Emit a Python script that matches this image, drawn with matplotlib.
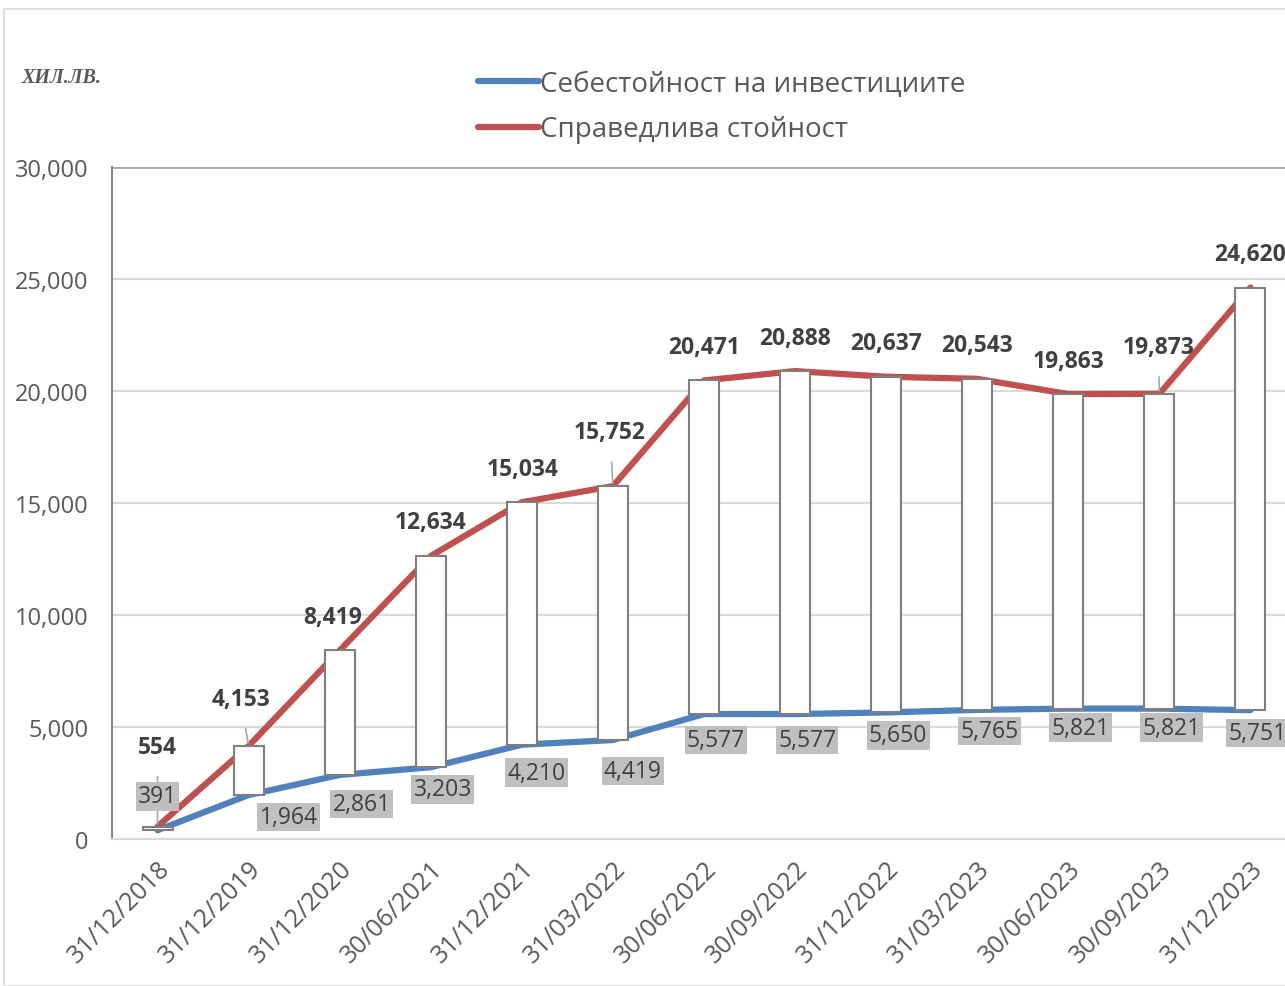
import matplotlib
matplotlib.use("Agg")
from matplotlib import pyplot as plt
from matplotlib.patches import Rectangle
from matplotlib.lines import Line2D
from matplotlib.ticker import FuncFormatter
import numpy as np

# данни
dates = ["31/12/2018", "31/12/2019", "31/12/2020", "30/06/2021", "31/12/2021",
         "31/03/2022", "30/06/2022", "30/09/2022", "31/12/2022", "31/03/2023",
         "30/06/2023", "30/09/2023", "31/12/2023"]
fair_value = [554, 4153, 8419, 12634, 15034, 15752, 20471, 20888, 20637,
              20543, 19863, 19873, 24620]
cost_value = [391, 1964, 2861, 3203, 4210, 4419, 5577, 5577, 5650, 5765,
              5821, 5821, 5751]
yticks = [0, 5000, 10000, 15000, 20000, 25000, 30000]

label_fair = "Справедлива стойност"
label_cost = "Себестойност на инвестициите"
unit_text = "ХИЛ.ЛВ."

# отмествания на етикетите (пиксели)
fair_off = [(0, 80), (-8, 47), (-7, 33), (0, 34), (1, 33), (-3, 54), (0, 33),
            (0, 33), (0, 34), (0, 34), (0, 33), (-1, 47), (0, 34)]
cost_off = [(0, 34), (40, -22), (22, -29), (12, -22), (15, -28), (20, -31),
            (12, -26), (12, -26), (12, -23), (12, -21), (12, -19), (12, -19),
            (7, -23)]
leader = [True, True, False, False, False, True, False, False, False, False,
          False, True, False]

red = "#C0504D"
blue = "#4F81BD"
txt = "#404040"
font = ["Open Sans", "Noto Sans", "DejaVu Sans"]

plt.rcParams["font.family"] = font

fig = plt.figure(figsize=(12.85, 9.87), dpi=100)
fig.patches.append(Rectangle((4 / 1285, 0), 1.2, 1 - 10 / 987, transform=fig.transFigure,
                             fill=False, edgecolor="#D9D9D9", lw=1.2))

ax = fig.add_axes([112 / 1285, 1 - 840 / 987, 1184 / 1285, 672 / 987])
x = np.arange(len(dates))

ax.plot(x, cost_value, color=blue, lw=4.5, solid_capstyle="round", zorder=2)
ax.plot(x, fair_value, color=red, lw=4.5, solid_capstyle="round", zorder=2)

# бели кутии между двете линии
for i in range(len(x)):
    lo = min(cost_value[i], fair_value[i])
    hi = max(cost_value[i], fair_value[i])
    ax.add_patch(Rectangle((x[i] - 0.165, lo), 0.33, hi - lo, facecolor="white",
                           edgecolor="#7F7F7F", lw=1.5, zorder=3))

for i in range(len(x)):
    ap = dict(arrowstyle="-", color="#A6A6A6", lw=1.2, shrinkA=11, shrinkB=2) if leader[i] else None
    ax.annotate(f"{fair_value[i]:,}", (x[i], fair_value[i]), xytext=fair_off[i],
                textcoords="offset pixels", ha="center", va="center",
                fontsize=16.5, fontweight="bold", color=txt, zorder=5,
                arrowprops=ap, annotation_clip=False)
    ax.annotate(f"{cost_value[i]:,}", (x[i], cost_value[i]), xytext=cost_off[i],
                textcoords="offset pixels", ha="center", va="center",
                fontsize=16.5, color=txt, zorder=6, annotation_clip=False,
                bbox=dict(boxstyle="square,pad=0.1", facecolor="#BFBFBF", edgecolor="none"))

ax.set_xlim(-0.5, len(x) - 0.5)
ax.set_ylim(0, 30000)
ax.set_yticks(yticks)
ax.yaxis.set_major_formatter(FuncFormatter(lambda v, p: f"{int(v):,}"))
ax.set_xticks(x)
ax.set_xticklabels(dates, rotation=45, ha="right", va="top", rotation_mode="anchor")
ax.tick_params(axis="both", length=0, labelsize=17, labelcolor="#595959")
ax.tick_params(axis="x", labelsize=18, pad=12)
ax.tick_params(axis="y", pad=17)
ax.grid(axis="y", color="#D9D9D9", lw=1.5)
ax.set_axisbelow(True)
for s in ["top", "right"]:
    ax.spines[s].set_visible(False)
ax.spines["left"].set_color("#868686")
ax.spines["left"].set_linewidth(1.5)
ax.spines["bottom"].set_color("#D9D9D9")
ax.spines["bottom"].set_linewidth(1.5)
ax.axhline(30000, color="#A6A6A6", lw=2, zorder=1)

handles = [Line2D([], [], color=blue, lw=4.5, solid_capstyle="round"),
           Line2D([], [], color=red, lw=4.5, solid_capstyle="round")]
fig.legend(handles, [label_cost, label_fair], loc="upper left",
           bbox_to_anchor=(478 / 1285, 1 - 71 / 987), frameon=False,
           fontsize=20, handlelength=2.2, handletextpad=0.05, labelspacing=0.62,
           labelcolor="#595959", borderpad=0, borderaxespad=0)

fig.text(22 / 1285, 1 - 78 / 987, unit_text, fontsize=14.5, fontweight="bold",
         style="italic", family="Liberation Serif", color="#595959", va="center")

fig.savefig("out.png", dpi=100)
